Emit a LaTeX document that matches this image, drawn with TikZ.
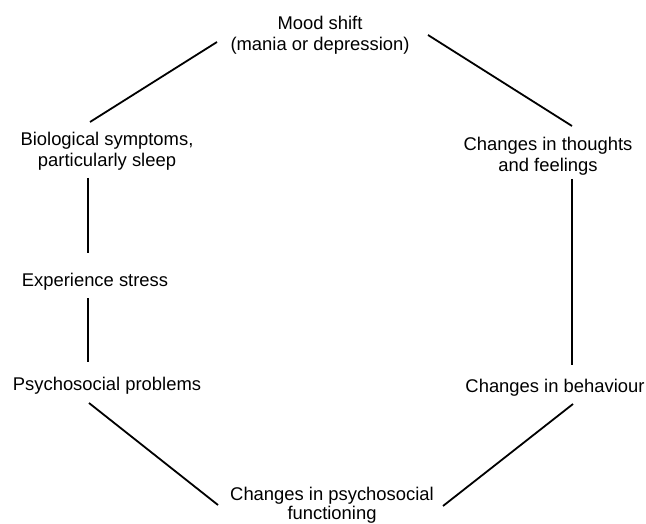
\documentclass[tikz,border=0pt]{standalone}
\usepackage{fontspec}
\setmainfont{Liberation Sans}
\begin{document}
\begin{tikzpicture}[x=1pt,y=-1pt,
  lbl/.style={inner sep=0pt, anchor=base, align=center, font=\fontsize{18.4}{21.5}\selectfont},
  link/.style={line width=1.8pt}]
\useasboundingbox (0,0) rectangle (646,524);
\node[lbl] (mood) at (320,51) {Mood shift\\(mania or depression)};
\node[lbl] (bio) at (107,167) {Biological symptoms,\\particularly sleep};
\node[lbl] (stress) at (95,287) {Experience stress};
\node[lbl] (prob) at (107,390) {Psychosocial problems};
\node[lbl] (thought) at (548,172) {Changes in thoughts\\and feelings};
\node[lbl] (behav) at (555,392) {Changes in behaviour};
\node[lbl, font=\fontsize{18.4}{19}\selectfont] (func) at (332,519) {Changes in psychosocial\\functioning};
% connector end points
\coordinate (m1) at (217,42);  \coordinate (b1) at (90,122);
\coordinate (m2) at (428,35);  \coordinate (t1) at (572,126);
\coordinate (b2) at (88,178);  \coordinate (s1) at (88,253);
\coordinate (s2) at (88,298);  \coordinate (p1) at (88,362);
\coordinate (p2) at (89,403);  \coordinate (f1) at (218,505);
\coordinate (t2) at (572,179); \coordinate (h1) at (572,365);
\coordinate (h2) at (573,404); \coordinate (f2) at (443,506);
\draw[link] (m1) -- (b1);
\draw[link] (m2) -- (t1);
\draw[link] (b2) -- (s1);
\draw[link] (s2) -- (p1);
\draw[link] (p2) -- (f1);
\draw[link] (t2) -- (h1);
\draw[link] (h2) -- (f2);
\end{tikzpicture}
\end{document}
